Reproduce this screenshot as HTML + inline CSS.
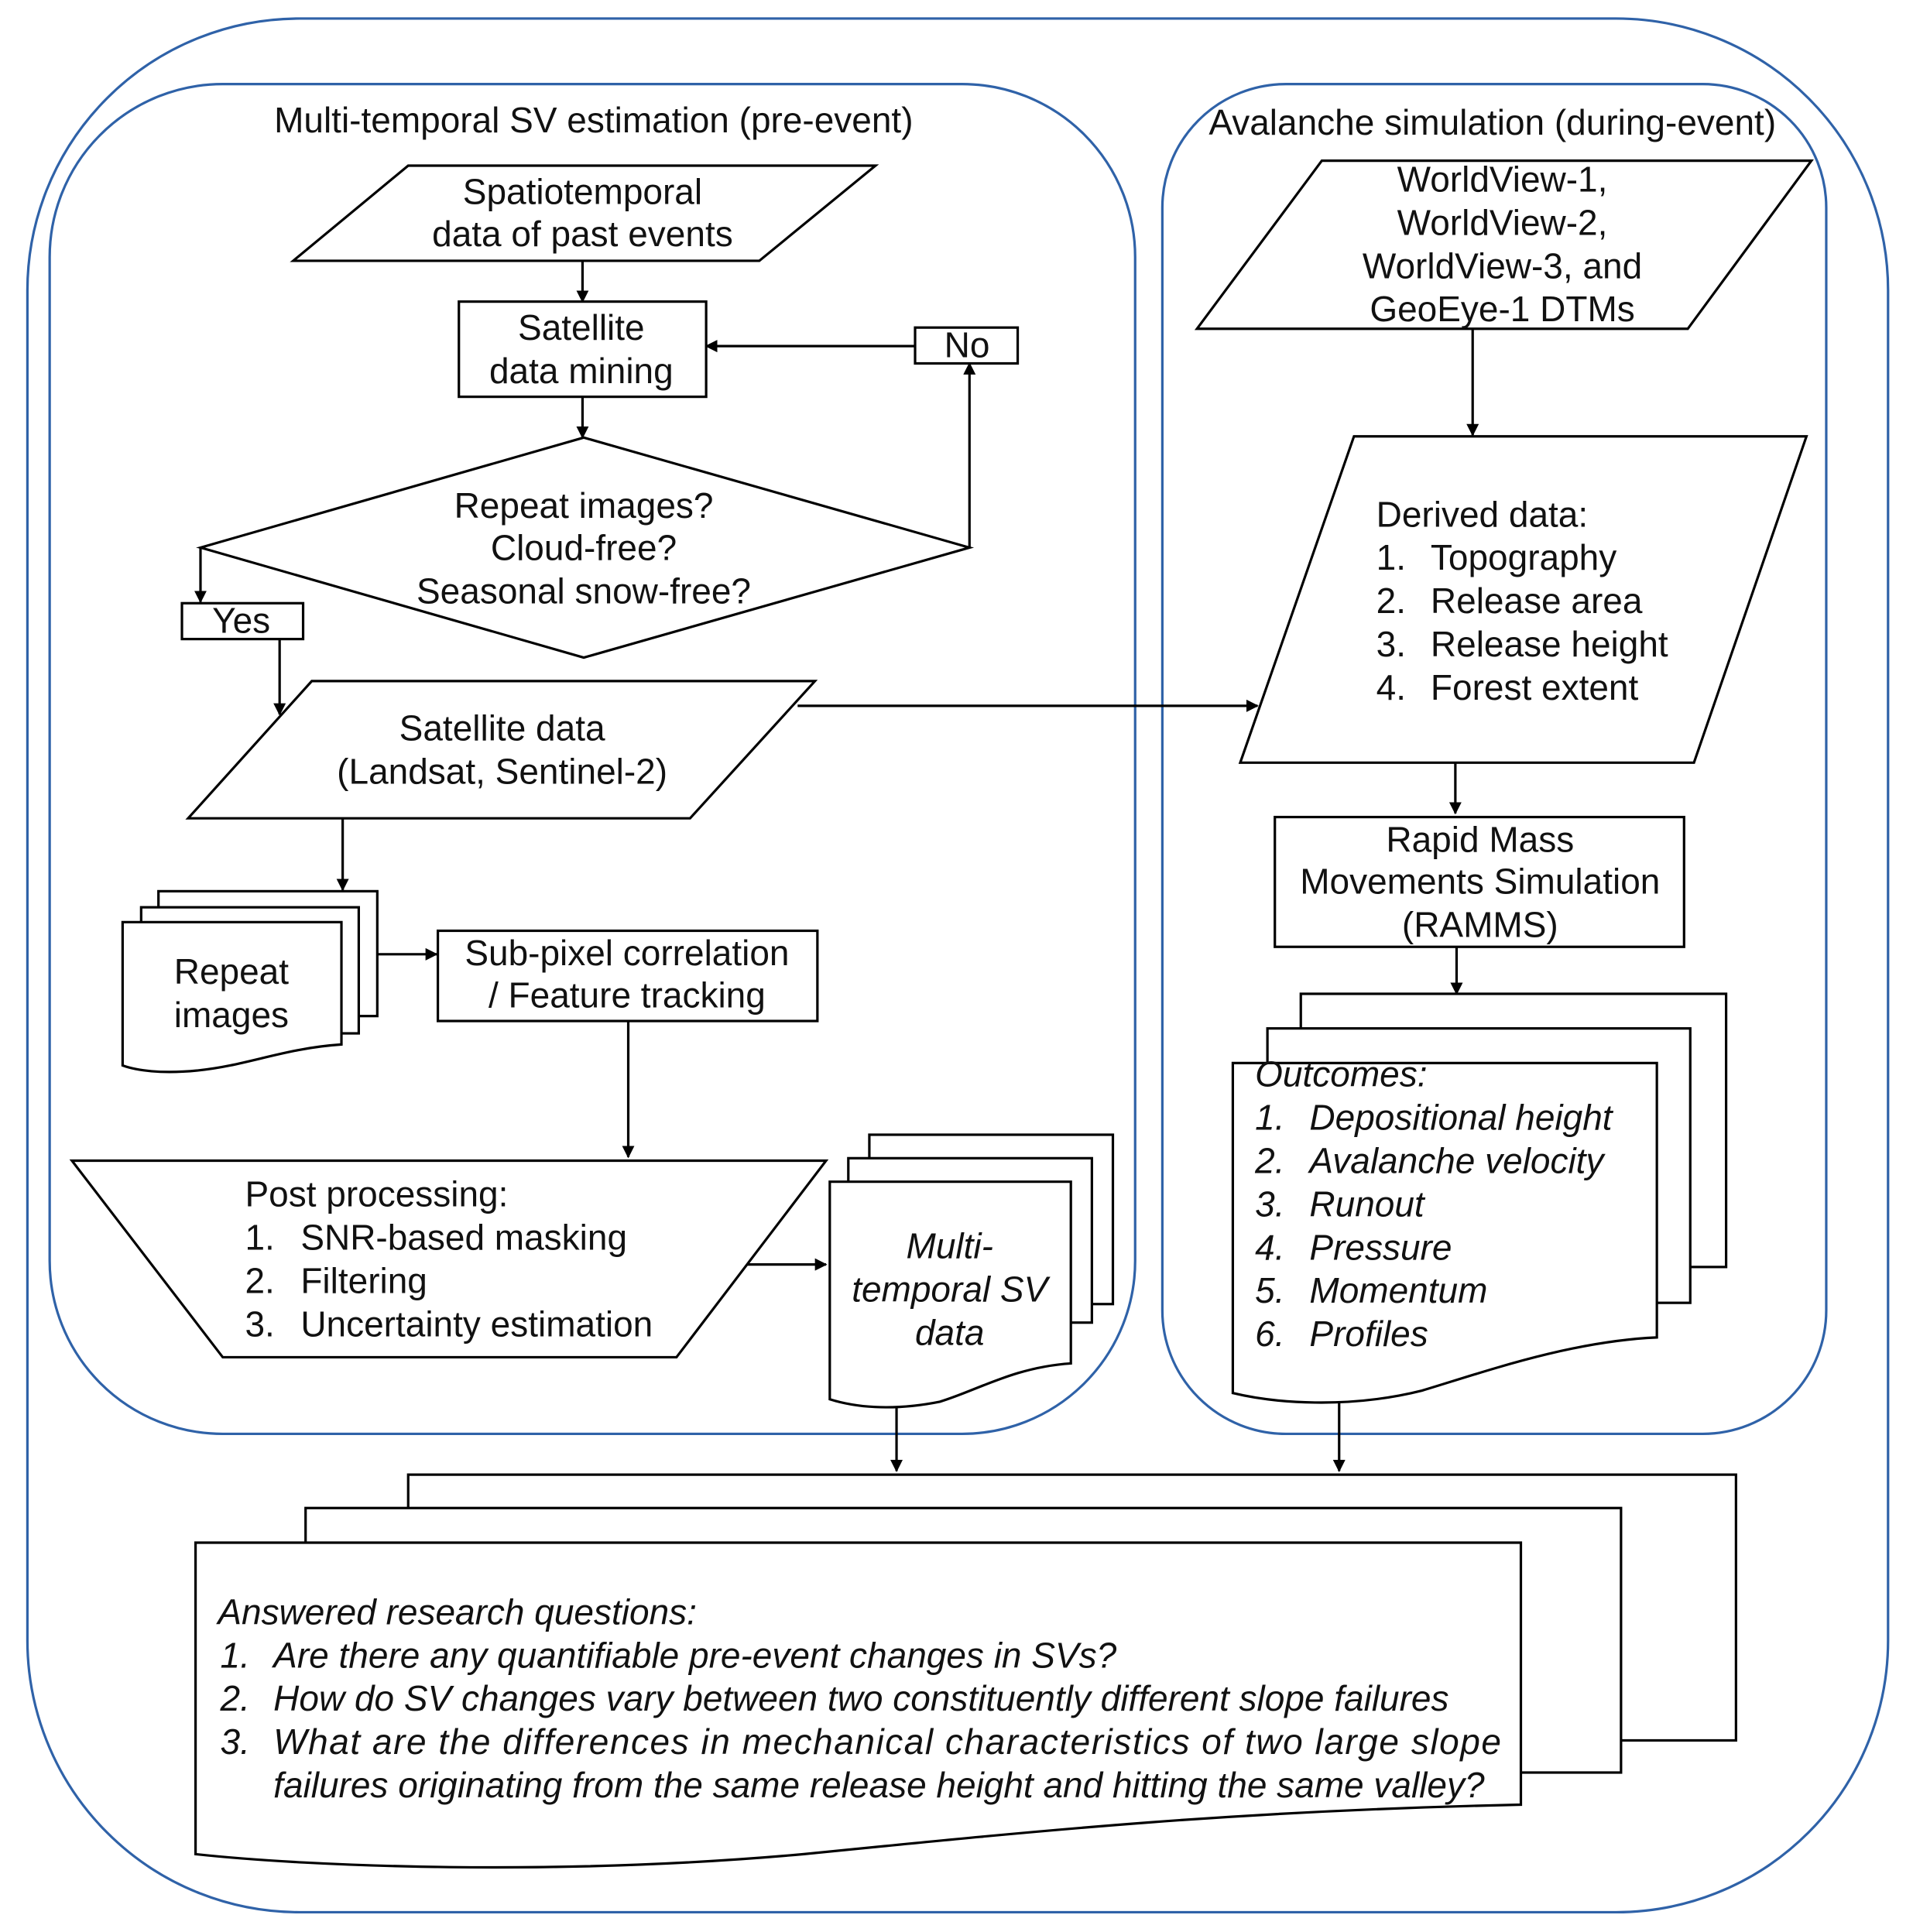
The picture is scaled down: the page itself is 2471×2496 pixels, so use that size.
<!DOCTYPE html>
<html><head><meta charset="utf-8"><style>
html,body{margin:0;padding:0;background:#fff;}
svg{display:block;}
text{font-family:"Liberation Sans",Arial,sans-serif;font-size:28.8px;fill:#111;}
.i{font-style:italic;}
</style></head><body>
<svg width="2471" height="2496" viewBox="0 0 1547 1563" xmlns="http://www.w3.org/2000/svg">
<defs><marker id="a" markerWidth="10" markerHeight="10" refX="9" refY="5" orient="auto" markerUnits="userSpaceOnUse"><path d="M0,0 L10,5 L0,10 z" fill="#000"/></marker></defs>
<g fill="none" stroke="#2f62a8" stroke-width="2">
<rect x="22" y="15" width="1505" height="1532" rx="220" ry="220"/>
<rect x="40" y="68" width="878" height="1092" rx="140" ry="140"/>
<rect x="940" y="68" width="537" height="1092" rx="100" ry="100"/>
</g>
<text x="480" y="107" text-anchor="middle">Multi-temporal SV estimation (pre-event)</text>
<text x="1207" y="109" text-anchor="middle">Avalanche simulation (during-event)</text>
<g stroke="#000" stroke-width="2" fill="#fff">
<polygon points="237,211 330,134 708,134 614,211"/>
<rect x="371" y="244" width="200" height="77"/>
<polygon points="472,354 784,443 472,532 162,443"/>
<rect x="147" y="488" width="98" height="29"/>
<rect x="740" y="265" width="83" height="29"/>
<polygon points="152,662 252,551 659,551 558,662"/>
<rect x="128" y="721" width="177" height="101"/>
<rect x="114" y="734" width="176" height="102"/>
<path d="M99,746 H276 V845 C230,848 200,862 160,866 C130,869 110,866 99,862 Z"/>
<rect x="354" y="753" width="307" height="73"/>
<polygon points="58,939 668,939 547,1098 180,1098"/>
<rect x="703" y="918" width="197" height="137"/>
<rect x="686" y="937" width="197" height="133"/>
<path d="M671,956 H866 V1103 C820,1106 790,1125 760,1134 C720,1142 690,1138 671,1132 Z"/>
<polygon points="968,266 1069,130 1465,130 1365,266"/>
<polygon points="1003,617 1095,353 1461,353 1370,617"/>
<rect x="1031" y="661" width="331" height="105"/>
<rect x="1052" y="804" width="344" height="221"/>
<rect x="1025" y="832" width="342" height="222"/>
<path d="M997,860 H1340 V1082 C1270,1085 1200,1110 1150,1125 C1090,1140 1030,1135 997,1127 Z"/>
<rect x="330" y="1193" width="1074" height="215"/>
<rect x="247" y="1220" width="1064" height="214"/>
<path d="M158,1248 H1230 V1460 C1000,1465 850,1480 650,1500 C450,1518 250,1510 158,1500 Z"/>
</g>
<g stroke="#000" stroke-width="2" fill="none" marker-end="url(#a)">
<path d="M471,211 V244"/>
<path d="M471,321 V354"/>
<path d="M162,443 V487"/>
<path d="M226,517 V578"/>
<path d="M784,443 V294"/>
<path d="M740,280 H571"/>
<path d="M645,571 H1017"/>
<path d="M277,662 V720"/>
<path d="M305,772 H353"/>
<path d="M508,826 V936"/>
<path d="M604,1023 H668"/>
<path d="M725,1138 V1190"/>
<path d="M1191,266 V352"/>
<path d="M1177,617 V658"/>
<path d="M1178,766 V804"/>
<path d="M1083,1135 V1190"/>
</g>
<g text-anchor="middle">
<text x="471" y="165">Spatiotemporal</text><text x="471" y="199">data of past events</text>
<text x="470" y="275">Satellite</text><text x="470" y="310">data mining</text>
<text x="472" y="419">Repeat images?</text><text x="472" y="453">Cloud-free?</text><text x="472" y="488">Seasonal snow-free?</text>
<text x="195" y="512">Yes</text><text x="782" y="289">No</text>
<text x="406" y="599">Satellite data</text><text x="406" y="634">(Landsat, Sentinel-2)</text>
<text x="187" y="796">Repeat</text><text x="187" y="831">images</text>
<text x="507" y="781">Sub-pixel correlation</text><text x="507" y="815">/ Feature tracking</text>
<text class="i" x="768" y="1018">Multi-</text><text class="i" x="768" y="1053">temporal SV</text><text class="i" x="768" y="1088">data</text>
<text x="1215" y="155">WorldView-1,</text><text x="1215" y="190">WorldView-2,</text><text x="1215" y="225">WorldView-3, and</text><text x="1215" y="260">GeoEye-1 DTMs</text>
<text x="1197" y="689">Rapid Mass</text><text x="1197" y="723">Movements Simulation</text><text x="1197" y="758">(RAMMS)</text>
</g>
<text x="198" y="976">Post processing:</text>
<text x="198" y="1011">1.</text><text x="243" y="1011">SNR-based masking</text>
<text x="198" y="1046">2.</text><text x="243" y="1046">Filtering</text>
<text x="198" y="1081">3.</text><text x="243" y="1081">Uncertainty estimation</text>
<text x="1113" y="426">Derived data:</text>
<text x="1113" y="461">1.</text><text x="1157" y="461">Topography</text>
<text x="1113" y="496">2.</text><text x="1157" y="496">Release area</text>
<text x="1113" y="531">3.</text><text x="1157" y="531">Release height</text>
<text x="1113" y="566">4.</text><text x="1157" y="566">Forest extent</text>
<g class="i">
<text class="i" x="1015" y="879">Outcomes:</text>
<text class="i" x="1015" y="914">1.</text><text class="i" x="1059" y="914">Depositional height</text>
<text class="i" x="1015" y="949">2.</text><text class="i" x="1059" y="949">Avalanche velocity</text>
<text class="i" x="1015" y="984">3.</text><text class="i" x="1059" y="984">Runout</text>
<text class="i" x="1015" y="1019">4.</text><text class="i" x="1059" y="1019">Pressure</text>
<text class="i" x="1015" y="1054">5.</text><text class="i" x="1059" y="1054">Momentum</text>
<text class="i" x="1015" y="1089">6.</text><text class="i" x="1059" y="1089">Profiles</text>
<text class="i" x="176" y="1314">Answered research questions:</text>
<text class="i" x="178" y="1349">1.</text><text class="i" x="221" y="1349">Are there any quantifiable pre-event changes in SVs?</text>
<text class="i" x="178" y="1384">2.</text><text class="i" x="221" y="1384">How do SV changes vary between two constituently different slope failures</text>
<text class="i" x="178" y="1419">3.</text><text class="i" x="221" y="1419" textLength="993" lengthAdjust="spacing">What are the differences in mechanical characteristics of two large slope</text>
<text class="i" x="221" y="1454">failures originating from the same release height and hitting the same valley?</text>
</g>
</svg>
</body></html>
